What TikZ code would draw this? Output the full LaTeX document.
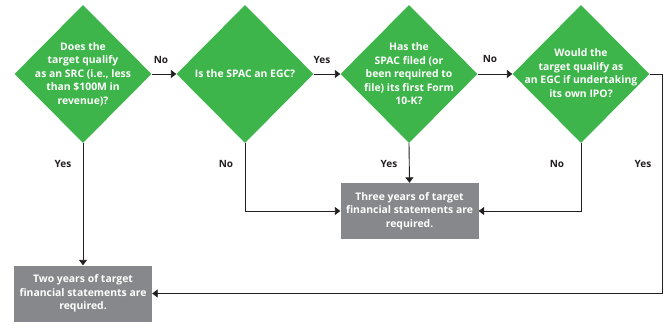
\documentclass[tikz,border=0pt]{standalone}
\usepackage{fontspec}
\setmainfont{Open Sans}
\usepackage{tikz}
\usepackage{xcolor}
\usetikzlibrary{arrows.meta,shapes.geometric}

\definecolor{decgreen}{HTML}{3DB54A}
\definecolor{resgray}{HTML}{86888B}
\definecolor{linedark}{HTML}{231F20}

\begin{document}
\begin{tikzpicture}[x=1bp,y=-1bp,>={Triangle[length=5.5bp,width=8bp]},
  decision/.style={diamond,fill=decgreen,inner sep=0pt,minimum width=137bp,minimum height=138bp},
  qtext/.style={text=white,font=\bfseries\fontsize{10.4bp}{13.5bp}\selectfont,align=center,inner sep=0pt},
  result/.style={rectangle,fill=resgray,text=white,font=\bfseries\fontsize{10.4bp}{13.5bp}\selectfont,align=center,minimum width=138bp,minimum height=56bp,inner sep=0pt},
  lbl/.style={text=linedark,font=\bfseries\fontsize{10bp}{12bp}\selectfont,inner sep=0pt},
  flow/.style={->,draw=linedark,line width=0.9bp}]
\useasboundingbox (0,0) rectangle (669,327);
%% questions
\node[decision](d1) at (83,74) {};
\node[qtext](q1) at (d1) {Does the\\target qualify\\as an SRC (i.e., less\\than \$100M in\\revenue)?};
\node[decision](d2) at (245,74) {};
\node[qtext](q2) at (d2) {Is the SPAC an EGC?};
\node[decision](d3) at (409,74) {};
\node[qtext](q3) at (d3) {Has the\\SPAC filed (or\\been required to\\file) its first Form\\10-K?};
\node[decision](d4) at (581,74) {};
\node[qtext](q4) at (581,73) {Would the\\target qualify as\\an EGC if undertaking\\its own IPO?};
%% results
\node[result](r2) at (83,293.5) {Two years of target\\financial statements are\\required.};
\node[result](r3) at (409.5,211) {Three years of target\\financial statements are\\required.};
\coordinate (turn) at (662,293.5);
%% arrows
\draw[flow](d1.east)--(d2.west);
\draw[flow](d2.east)--(d3.west);
\draw[flow](d3.east)--(d4.west);
\draw[flow](d1.south)--(r2.north);
\draw[flow](d2.south)|-(r3.west);
\draw[flow](d3.south)--(r3.north);
\draw[flow](d4.south)|-(r3.east);
\draw[flow](d4.east)-|(turn)--(r2.east);
%% labels
\node[lbl](n1) at (161,60) {No};
\node[lbl](y2) at (322,60) {Yes};
\node[lbl](n3) at (490,59) {No};
\node[lbl](y1) at (63,164) {Yes};
\node[lbl](n2) at (226,164) {No};
\node[lbl](y3) at (389,164) {Yes};
\node[lbl](n4) at (557,164) {No};
\node[lbl](y4) at (643,164) {Yes};
\end{tikzpicture}
\end{document}
